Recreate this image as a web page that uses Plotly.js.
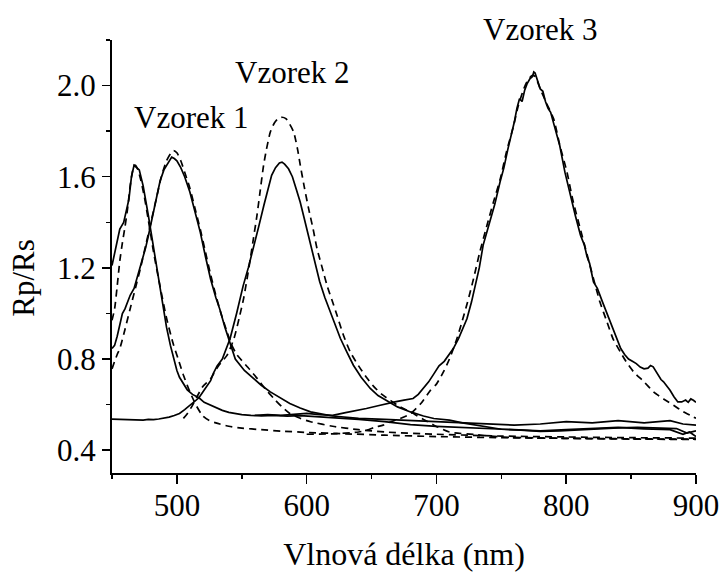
<!DOCTYPE html>
<html>
<head>
<meta charset="utf-8">
<script src="https://cdn.plot.ly/plotly-3.0.1.min.js"></script>
<style>
  html, body { margin: 0; padding: 0; background: #fff; }
  #chart { width: 722px; height: 572px; }
</style>
</head>
<body>
<div id="chart"></div>
<script>
// Measured Rp/Rs spectra (solid) and their fitted resonance curves (dashed)

// Resonance near 467 nm
const wlMeas467 = [450, 452, 454, 456, 458, 459, 461, 463, 465, 467, 469, 471, 474, 476, 478, 480, 482, 485, 487, 490, 492, 495, 497, 500, 502, 505, 508, 512, 517, 521, 525, 530, 535, 540, 545, 550, 557, 565, 575, 585, 595, 605, 620, 640, 660, 680, 700, 720, 740, 760, 780, 800, 820, 840, 860, 880, 890, 895, 900];
const meas467 = [1.21, 1.26, 1.31, 1.37, 1.39, 1.40, 1.45, 1.50, 1.60, 1.65, 1.64, 1.63, 1.56, 1.50, 1.43, 1.36, 1.29, 1.18, 1.11, 1.01, 0.94, 0.86, 0.81, 0.75, 0.72, 0.69, 0.665, 0.645, 0.63, 0.61, 0.60, 0.585, 0.575, 0.566, 0.56, 0.556, 0.553, 0.551, 0.553, 0.550, 0.552, 0.548, 0.545, 0.535, 0.525, 0.512, 0.505, 0.50, 0.494, 0.49, 0.485, 0.49, 0.496, 0.50, 0.494, 0.49, 0.47, 0.48, 0.46];
const wlFit467 = [450, 452, 454, 456, 458, 460, 462, 464, 466, 467, 468, 470, 472, 475, 478, 482, 487, 492, 497, 501, 505, 510, 515, 520, 525, 530, 540, 550, 565, 580, 600, 630, 660, 700, 750, 800, 850, 900];
const fit467 = [0.97, 1.02, 1.12, 1.23, 1.31, 1.38, 1.46, 1.56, 1.63, 1.65, 1.65, 1.63, 1.59, 1.51, 1.41, 1.27, 1.12, 0.98, 0.87, 0.80, 0.73, 0.656, 0.595, 0.55, 0.53, 0.52, 0.505, 0.497, 0.49, 0.484, 0.478, 0.472, 0.466, 0.46, 0.455, 0.452, 0.45, 0.448];

// Resonance near 497 nm
const wlMeas497 = [450, 452, 454, 456, 458, 460, 462, 464, 467, 470, 472, 474, 476, 478, 480, 482, 485, 487, 490, 493, 496, 498, 500, 503, 506, 510, 514, 518, 522, 526, 530, 533, 537, 540, 545, 552, 559, 565, 572, 580, 587, 595, 603, 620, 640, 660, 680, 700, 720, 740, 760, 780, 800, 820, 840, 860, 880, 890, 900];
const meas497 = [0.846, 0.86, 0.90, 0.95, 1.00, 1.02, 1.05, 1.08, 1.11, 1.17, 1.20, 1.24, 1.29, 1.34, 1.39, 1.45, 1.53, 1.58, 1.63, 1.66, 1.686, 1.68, 1.67, 1.64, 1.60, 1.533, 1.45, 1.357, 1.25, 1.15, 1.07, 1.02, 0.94, 0.89, 0.80, 0.75, 0.714, 0.685, 0.656, 0.628, 0.605, 0.585, 0.568, 0.55, 0.54, 0.535, 0.53, 0.525, 0.52, 0.515, 0.51, 0.515, 0.525, 0.52, 0.53, 0.52, 0.53, 0.515, 0.51];
const wlFit497 = [450, 452, 454, 456, 460, 464, 468, 472, 476, 480, 484, 488, 492, 495, 497.5, 500, 503, 506, 510, 514, 518, 522, 526, 530, 534, 538, 542, 546, 549, 556, 562, 568, 575, 581, 587, 595, 603, 620, 640, 660, 700, 750, 800, 850, 900];
const fit497 = [0.757, 0.79, 0.82, 0.846, 0.93, 1.021, 1.11, 1.20, 1.30, 1.40, 1.50, 1.60, 1.67, 1.70, 1.715, 1.705, 1.67, 1.62, 1.55, 1.46, 1.37, 1.27, 1.17, 1.08, 1.00, 0.93, 0.865, 0.82, 0.80, 0.755, 0.714, 0.67, 0.625, 0.59, 0.561, 0.54, 0.525, 0.505, 0.49, 0.48, 0.47, 0.462, 0.458, 0.455, 0.453];

// Resonance near 581 nm
const wlMeas581 = [450, 455, 460, 465, 470, 474, 478, 482, 486, 490, 494, 498, 502, 506, 510, 513, 517, 520, 523, 526, 528, 531, 535, 538, 541, 546, 551, 555, 559, 563, 567, 570, 573, 576, 579, 581, 583, 586, 589, 592, 595, 598, 601, 605, 610, 614, 618, 622, 626, 631, 636, 642, 649, 655, 662, 670, 680, 690, 698, 710, 720, 735, 750, 765, 780, 795, 810, 825, 840, 855, 870, 885, 893, 900];
const meas581 = [0.536, 0.535, 0.533, 0.534, 0.531, 0.532, 0.535, 0.534, 0.537, 0.540, 0.545, 0.552, 0.561, 0.578, 0.597, 0.612, 0.63, 0.655, 0.678, 0.705, 0.736, 0.77, 0.80, 0.85, 0.89, 1.00, 1.12, 1.20, 1.284, 1.38, 1.474, 1.54, 1.606, 1.64, 1.66, 1.664, 1.655, 1.635, 1.60, 1.545, 1.489, 1.42, 1.35, 1.27, 1.14, 1.07, 1.007, 0.95, 0.89, 0.83, 0.773, 0.72, 0.671, 0.64, 0.615, 0.59, 0.568, 0.55, 0.539, 0.532, 0.52, 0.505, 0.492, 0.488, 0.483, 0.485, 0.49, 0.495, 0.498, 0.50, 0.497, 0.495, 0.475, 0.485];
const wlFit581 = [505, 508, 512, 516, 520, 526, 532, 538.6, 544, 548, 551.4, 554, 556.6, 559, 561.7, 564, 566.8, 569, 572, 575, 578, 581, 584, 587, 590, 593, 595.1, 598, 601.5, 605, 608, 612, 615.7, 620, 623.4, 628, 633.6, 640, 646, 651.6, 658, 664.4, 672, 680, 690, 698, 710, 731, 750, 800, 850, 900];
const fit581 = [0.54, 0.56, 0.597, 0.64, 0.68, 0.714, 0.77, 0.816, 0.89, 0.98, 1.065, 1.15, 1.24, 1.33, 1.43, 1.53, 1.65, 1.72, 1.796, 1.835, 1.855, 1.861, 1.855, 1.83, 1.796, 1.72, 1.65, 1.56, 1.46, 1.37, 1.284, 1.20, 1.123, 1.05, 0.992, 0.91, 0.831, 0.77, 0.72, 0.68, 0.645, 0.619, 0.59, 0.568, 0.535, 0.51, 0.48, 0.468, 0.458, 0.452, 0.449, 0.447];

// Resonance near 775 nm
const wlMeas775 = [560, 570, 580, 590, 600, 610, 620, 630, 640, 646, 655, 662, 668, 675, 682, 686, 690, 694, 698, 702, 706, 710, 713, 717, 720, 723.5, 727, 730, 733, 736, 739, 742, 745, 749, 752, 755, 757, 760, 762, 764, 766, 768, 770, 772, 774, 775, 776, 778, 780, 782, 784, 786, 788, 791, 795, 799, 803, 807, 811, 814, 816, 818, 821, 824, 828, 831, 836, 840, 842, 845, 848, 851, 854, 857, 860, 863, 865, 867, 870, 873, 875, 878, 880, 883, 886, 889, 892, 894, 896, 898, 900];
const meas775 = [0.553, 0.556, 0.553, 0.558, 0.562, 0.556, 0.553, 0.565, 0.575, 0.583, 0.595, 0.605, 0.612, 0.62, 0.627, 0.645, 0.671, 0.70, 0.735, 0.77, 0.79, 0.82, 0.846, 0.89, 0.93, 0.977, 1.05, 1.12, 1.20, 1.30, 1.36, 1.42, 1.48, 1.577, 1.64, 1.72, 1.766, 1.84, 1.90, 1.942, 1.93, 1.98, 2.01, 2.03, 2.04, 2.06, 2.055, 2.02, 1.985, 1.975, 1.93, 1.90, 1.883, 1.82, 1.737, 1.62, 1.518, 1.43, 1.343, 1.30, 1.25, 1.22, 1.138, 1.11, 1.05, 1.007, 0.93, 0.87, 0.846, 0.82, 0.80, 0.79, 0.78, 0.765, 0.757, 0.76, 0.772, 0.766, 0.735, 0.71, 0.70, 0.68, 0.663, 0.635, 0.612, 0.612, 0.62, 0.61, 0.625, 0.619, 0.61];
const wlFit775 = [600, 620, 640, 646.5, 652, 659, 665, 672, 680, 688, 695, 700, 706, 710, 715.8, 720, 724, 728.6, 733, 738.9, 744, 749.2, 754, 759.5, 763, 767.2, 770, 773.6, 776, 780, 785, 790.3, 795, 800.6, 805, 810.8, 816, 821, 826, 831.4, 836, 841.7, 846, 851.9, 860, 867.3, 875, 882.7, 890, 898, 900];
const fit775 = [0.47, 0.472, 0.48, 0.488, 0.50, 0.51, 0.525, 0.539, 0.56, 0.605, 0.66, 0.69, 0.75, 0.80, 0.89, 0.97, 1.05, 1.153, 1.26, 1.386, 1.49, 1.591, 1.71, 1.825, 1.91, 1.985, 2.02, 2.044, 2.04, 1.985, 1.92, 1.854, 1.74, 1.62, 1.50, 1.372, 1.26, 1.153, 1.05, 0.963, 0.89, 0.831, 0.79, 0.744, 0.70, 0.656, 0.625, 0.597, 0.57, 0.546, 0.54];

// Sample labels and where they sit (wavelength, Rp/Rs)
const sampleNames = ['Vzorek 1', 'Vzorek 2', 'Vzorek 3'];
const sampleLabelX = [510.7, 588.7, 780];
const sampleLabelY = [1.859, 2.056, 2.244];

const xRange = [450, 900];
const yRange = [0.3, 2.2];
const serif = 'Liberation Serif';

function measured(x, y) {
  return { x: x, y: y, type: 'scatter', mode: 'lines',
           line: { color: '#000', width: 1.7 }, hoverinfo: 'skip' };
}
function fitted(x, y) {
  return { x: x, y: y, type: 'scatter', mode: 'lines',
           line: { color: '#000', width: 1.7, dash: '7px,5px', shape: 'spline', smoothing: 0.6 },
           hoverinfo: 'skip' };
}

const traces = [
  fitted(wlFit467, fit467), measured(wlMeas467, meas467),
  fitted(wlFit497, fit497), measured(wlMeas497, meas497),
  fitted(wlFit581, fit581), measured(wlMeas581, meas581),
  fitted(wlFit775, fit775), measured(wlMeas775, meas775)
];

// labels may sit above the top of the y range, so place them in paper units
const toPaperX = v => (v - xRange[0]) / (xRange[1] - xRange[0]);
const toPaperY = v => (v - yRange[0]) / (yRange[1] - yRange[0]);

const annotations = sampleNames.map((name, i) => ({
  x: toPaperX(sampleLabelX[i]), y: toPaperY(sampleLabelY[i]),
  xref: 'paper', yref: 'paper',
  text: name, showarrow: false, xanchor: 'center', yanchor: 'middle',
  font: { family: serif, size: 31, color: '#000' }
}));
annotations.push({
  x: -0.1507, y: toPaperY(1.157), xref: 'paper', yref: 'paper',
  text: 'Rp/Rs', textangle: -90, showarrow: false,
  xanchor: 'center', yanchor: 'middle',
  font: { family: serif, size: 31, color: '#000' }
});

const layout = {
  width: 722, height: 572,
  margin: { l: 112, r: 26, t: 40, b: 99 },
  paper_bgcolor: '#fff', plot_bgcolor: '#fff',
  showlegend: false,
  font: { family: serif, color: '#000' },
  xaxis: {
    range: xRange, tick0: 500, dtick: 100,
    showgrid: false, zeroline: false,
    showline: true, linecolor: '#000', linewidth: 2,
    ticks: 'outside', ticklen: 9, tickwidth: 1.5, tickcolor: '#000',
    ticklabelstandoff: -5,
    tickfont: { family: serif, size: 31, color: '#000' },
    minor: { dtick: 50, tick0: 450, ticks: 'outside', ticklen: 4, tickwidth: 1.5, tickcolor: '#000' },
    title: { text: 'Vlnová délka (nm)', font: { family: serif, size: 32, color: '#000' }, standoff: 20 },
    automargin: false
  },
  yaxis: {
    range: yRange, tick0: 0.4, dtick: 0.4, tickformat: '.1f',
    showgrid: false, zeroline: false,
    showline: true, linecolor: '#000', linewidth: 2,
    ticks: 'outside', ticklen: 8, tickwidth: 1.5, tickcolor: '#000',
    tickfont: { family: serif, size: 31, color: '#000' },
    minor: { dtick: 0.2, tick0: 0.4, ticks: 'outside', ticklen: 4, tickwidth: 1.5, tickcolor: '#000' },
    automargin: false
  },
  annotations: annotations
};

Plotly.newPlot('chart', traces, layout, { staticPlot: true, displayModeBar: false });
</script>
</body>
</html>
